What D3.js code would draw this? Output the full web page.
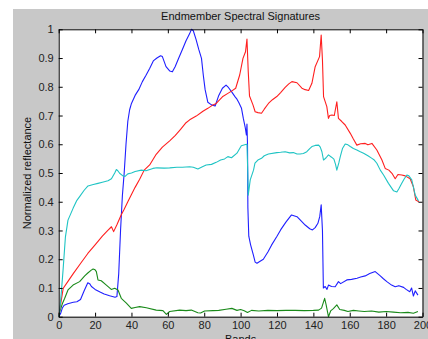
<!DOCTYPE html>
<html>
<head>
<meta charset="utf-8">
<script src="https://cdn.jsdelivr.net/npm/d3@7"></script>
<style>
  body { margin: 0; background: #fff; }
  svg { display: block; }
</style>
</head>
<body>
<div id="chart"></div>
<script>
// endmember signatures, [band, reflectance]
const blue = [
  [0,0.0],[1,0.01],[2,0.03],[3,0.04],[5,0.045],[8,0.05],[10,0.052],[12,0.06],[14,0.09],[16,0.118],[17,0.115],
  [18,0.105],[20,0.095],[23,0.085],[25,0.079],[28,0.073],[31,0.068],[32,0.07],[33,0.15],[34,0.3],[35,0.42],
  [36,0.5],[37,0.6],[38,0.68],[39,0.72],[40,0.742],[42,0.77],[44,0.79],[46,0.818],[48,0.84],[50,0.864],
  [52,0.89],[54,0.9],[56,0.908],[57,0.905],[59,0.87],[61,0.855],[62.5,0.852],[64,0.87],[66,0.9],[68,0.93],
  [70,0.96],[72,0.985],[73,1.0],[74,0.995],[75.5,0.965],[77,0.93],[78.5,0.899],[79.5,0.84],[80.5,0.79],
  [82,0.746],[84,0.737],[86,0.733],[88,0.77],[90,0.795],[92,0.806],[93,0.8],[95,0.783],[97,0.765],[98,0.757],
  [99,0.745],[100.5,0.725],[101.5,0.69],[102.5,0.66],[103.2,0.632],[103.5,0.67],[103.8,0.6],[104,0.38],
  [104.5,0.28],[105.5,0.25],[107,0.215],[108,0.19],[109,0.186],[110.5,0.192],[112.5,0.2],[115,0.225],
  [117,0.249],[120,0.28],[122,0.302],[125,0.33],[128,0.354],[131,0.348],[133,0.335],[135.5,0.319],[138,0.306],
  [139.5,0.302],[141,0.31],[142.5,0.325],[143.5,0.348],[144.3,0.389],[145,0.3],[145.5,0.1],[146.5,0.105],
  [147.5,0.095],[148.3,0.11],[150,0.105],[152,0.104],[153.8,0.122],[155,0.115],[158.4,0.128],[161,0.13],
  [164,0.134],[166,0.138],[168.5,0.142],[171,0.15],[174,0.157],[176.8,0.142],[178.5,0.132],[180.4,0.122],
  [183,0.11],[185,0.104],[187,0.108],[189.6,0.102],[191,0.095],[193,0.087],[194,0.1],[195,0.072],[196,0.09],
  [197.5,0.075]
];
const green = [
  [0,0.0],[0.5,0.015],[2,0.045],[3.3,0.064],[5.1,0.093],[7.9,0.11],[11.5,0.122],[14.3,0.142],[16,0.152],
  [17.9,0.162],[18.9,0.166],[20,0.163],[20.7,0.157],[21.6,0.128],[23.4,0.125],[26.2,0.11],[28.9,0.095],
  [30.8,0.099],[32.6,0.093],[34.4,0.064],[37.2,0.047],[39.9,0.029],[42,0.032],[44.5,0.035],[48.2,0.031],
  [53.6,0.023],[57.3,0.021],[59.2,0.008],[61,0.018],[66.5,0.023],[70,0.021],[72.9,0.023],[76.5,0.014],
  [78,0.013],[80.2,0.02],[84.8,0.021],[88,0.022],[92,0.026],[95.2,0.029],[98,0.022],[100,0.025],[102,0.021],
  [103.8,0.015],[106,0.022],[110,0.02],[115,0.022],[120,0.021],[125,0.022],[130,0.022],[135,0.021],[140,0.022],
  [142.9,0.023],[144.5,0.03],[146.2,0.064],[147,0.042],[148.3,0.0],[149.5,0.02],[151,0.028],[152.9,0.041],
  [154.5,0.025],[157,0.022],[159,0.018],[162,0.022],[165,0.02],[168,0.018],[172,0.02],[176,0.016],[180,0.018],
  [184,0.016],[188,0.014],[192,0.015],[195,0.012],[197.5,0.018]
];
const red = [
  [0,0.0],[1,0.04],[2,0.08],[2.5,0.099],[5,0.122],[8,0.15],[12,0.185],[16,0.22],[20,0.25],[24,0.28],[27,0.3],
  [29,0.313],[30.2,0.296],[32,0.32],[34.4,0.355],[36,0.374],[38,0.4],[40,0.425],[42,0.45],[44.5,0.478],
  [47,0.51],[50,0.528],[53.6,0.565],[57,0.59],[61,0.612],[64,0.63],[67,0.652],[70,0.675],[72,0.685],
  [75.6,0.698],[79.3,0.715],[82,0.725],[84.8,0.737],[86.6,0.742],[90,0.765],[93,0.777],[95,0.785],[97.3,0.795],
  [98.5,0.82],[99.5,0.841],[101.3,0.899],[102.7,0.922],[103.5,0.966],[104.2,0.853],[104.9,0.768],[106.8,0.737],
  [108,0.713],[109.5,0.71],[111.5,0.708],[113,0.722],[115.3,0.742],[117.5,0.755],[119.9,0.766],[122,0.78],
  [124.5,0.798],[126.5,0.81],[128.2,0.818],[131,0.814],[133.7,0.795],[135.5,0.79],[137.4,0.787],[139.2,0.812],
  [141,0.87],[143.4,0.905],[144.3,0.98],[145,0.893],[145.6,0.766],[147.4,0.731],[148.3,0.69],[149,0.7],
  [150.2,0.702],[151.5,0.7],[152.9,0.748],[153.8,0.69],[155.5,0.68],[157.5,0.667],[160.3,0.638],[162,0.618],
  [163.9,0.597],[166,0.602],[168.5,0.603],[170,0.598],[172.2,0.603],[174.9,0.58],[177.7,0.545],[179.5,0.516],
  [181.5,0.51],[183.2,0.499],[185,0.48],[186.5,0.495],[188.6,0.493],[190.5,0.49],[193.2,0.48],[195,0.452],
  [196.3,0.406],[198,0.4]
];
const cyan = [
  [0,0.0],[0.5,0.016],[1.5,0.09],[2.4,0.162],[3.7,0.278],[5.1,0.336],[7.9,0.377],[10,0.405],[11.5,0.418],
  [14,0.44],[16.1,0.455],[19,0.46],[21.6,0.464],[24,0.468],[27.1,0.473],[29,0.48],[30.8,0.5],[31.7,0.512],
  [32.5,0.508],[33.5,0.499],[35.3,0.49],[36.5,0.488],[38,0.497],[40,0.5],[42,0.505],[45.4,0.51],[48,0.508],
  [51.8,0.516],[54,0.518],[58,0.517],[61,0.518],[65,0.52],[68,0.52],[72,0.522],[74,0.52],[76.5,0.514],
  [79,0.522],[81.1,0.528],[84,0.53],[86.6,0.537],[89,0.545],[91.2,0.549],[93,0.557],[95,0.553],[98,0.569],
  [99.5,0.585],[100.4,0.595],[103.2,0.6],[103.5,0.6],[104,0.49],[104.2,0.423],[105.3,0.476],[107.1,0.51],
  [107.9,0.534],[109.5,0.545],[111.5,0.551],[113,0.56],[115.3,0.566],[119.9,0.571],[122,0.572],[124.5,0.574],
  [127,0.57],[129,0.571],[131,0.566],[132.7,0.566],[134.5,0.568],[136.4,0.574],[138,0.585],[139.2,0.592],
  [141,0.596],[142.9,0.597],[143.8,0.59],[144.7,0.574],[145.6,0.545],[147,0.553],[148.3,0.563],[150,0.555],
  [151.3,0.548],[152.2,0.53],[152.9,0.51],[154,0.535],[154.8,0.557],[156,0.585],[157.5,0.601],[159,0.598],
  [160.3,0.592],[162,0.585],[163.9,0.58],[165.5,0.575],[167.6,0.569],[170,0.56],[172.2,0.551],[173.5,0.545],
  [174.9,0.534],[176.8,0.51],[178.6,0.493],[181.3,0.464],[184.1,0.438],[185.9,0.434],[187,0.445],[188.6,0.464],
  [190,0.48],[191.4,0.493],[192.5,0.49],[194.1,0.476],[196,0.423],[197.8,0.403]
];

const xTicks = [0, 20, 40, 60, 80, 100, 120, 140, 160, 180, 200];
const yTicks = [0, 0.1, 0.2, 0.3, 0.4, 0.5, 0.6, 0.7, 0.8, 0.9, 1];
const title = "Endmember Spectral Signatures";
const xLabel = "Bands";
const yLabel = "Normalized reflectance";

const width = 428, height = 339;
const margin = {top: 29.3, right: 5.5, bottom: 22.3, left: 58.7};
const font = "Liberation Sans, Arial, sans-serif";

const svg = d3.select("#chart").append("svg")
  .attr("width", width)
  .attr("height", height);

// grey figure background (white strip at left and top)
svg.append("rect")
  .attr("x", 13).attr("y", 9)
  .attr("width", width - 13).attr("height", height - 9)
  .attr("fill", "#c8c8c8");

const x = d3.scaleLinear().domain([0, 200]).range([margin.left, width - margin.right]);
const y = d3.scaleLinear().domain([0, 1]).range([height - margin.bottom, margin.top]);

svg.append("rect")
  .attr("x", x(0)).attr("y", y(1))
  .attr("width", x(200) - x(0)).attr("height", y(0) - y(1))
  .attr("fill", "#fff");

const line = d3.line().x(d => x(d[0])).y(d => y(d[1]));

const series = [
  {data: blue, color: "#1f1fff"},
  {data: green, color: "#1a8a1a"},
  {data: red, color: "#ff1f1f"},
  {data: cyan, color: "#1fc4c4"}
];

svg.selectAll("path.sig")
  .data(series)
  .enter()
  .append("path")
  .attr("class", "sig")
  .attr("d", d => line(d.data))
  .attr("fill", "none")
  .attr("stroke", d => d.color)
  .attr("stroke-width", 1.1)
  .attr("stroke-linejoin", "round");

// axes, ticks pointing inward on all four sides
const styleAxis = g => {
  g.attr("font-family", font).attr("font-size", 11).attr("color", "#000");
  g.selectAll("text").attr("fill", "#222");
};

svg.append("g")
  .attr("transform", `translate(0,${y(0)})`)
  .call(d3.axisBottom(x).tickValues(xTicks).tickSizeInner(-4).tickSizeOuter(0).tickPadding(5).tickFormat(d3.format("d")))
  .call(styleAxis);

svg.append("g")
  .attr("transform", `translate(0,${y(1)})`)
  .call(d3.axisTop(x).tickValues(xTicks).tickSizeInner(-4).tickSizeOuter(0).tickFormat(""))
  .call(styleAxis);

svg.append("g")
  .attr("transform", `translate(${x(0)},0)`)
  .call(d3.axisLeft(y).tickValues(yTicks).tickSizeInner(-4).tickSizeOuter(0).tickPadding(5).tickFormat(d => d === 0 || d === 1 ? String(d) : d3.format(".1f")(d)))
  .call(styleAxis);

svg.append("g")
  .attr("transform", `translate(${x(200)},0)`)
  .call(d3.axisRight(y).tickValues(yTicks).tickSizeInner(-4).tickSizeOuter(0).tickFormat(""))
  .call(styleAxis);

svg.append("text")
  .attr("x", (x(0) + x(200)) / 2)
  .attr("y", 20)
  .attr("text-anchor", "middle")
  .attr("font-family", font)
  .attr("font-size", 11)
  .attr("fill", "#111")
  .text(title);

svg.append("text")
  .attr("x", (x(0) + x(200)) / 2)
  .attr("y", 343)
  .attr("text-anchor", "middle")
  .attr("font-family", font)
  .attr("font-size", 11)
  .attr("fill", "#111")
  .text(xLabel);

svg.append("text")
  .attr("transform", `translate(31,${(y(0) + y(1)) / 2}) rotate(-90)`)
  .attr("text-anchor", "middle")
  .attr("font-family", font)
  .attr("font-size", 11)
  .attr("fill", "#111")
  .text(yLabel);
</script>
</body>
</html>
